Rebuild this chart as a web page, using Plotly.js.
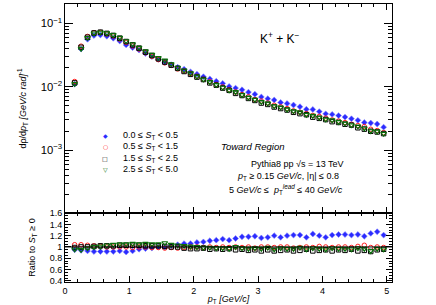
<!DOCTYPE html>
<html><head><meta charset="utf-8">
<script src="https://cdn.plot.ly/plotly-3.0.1.min.js"></script>
<style>html,body{margin:0;padding:0;background:#fff}#c{width:436px;height:305px}</style>
</head><body><div id="c"></div>
<script>
const pt = [0.15,0.25,0.35,0.45,0.55,0.65,0.75,0.85,0.95,1.05,1.15,1.25,1.35,1.45,1.55,1.65,1.75,1.85,1.95,2.05,2.15,2.25,2.35,2.45,2.55,2.65,2.75,2.85,2.95,3.05,3.15,3.25,3.35,3.45,3.55,3.65,3.75,3.85,3.95,4.05,4.15,4.25,4.35,4.45,4.55,4.65,4.75,4.85,4.95];

const seriesNames = ["0.0 ≤ <i>S</i><sub>T</sub> < 0.5","0.5 ≤ <i>S</i><sub>T</sub> < 1.5","1.5 ≤ <i>S</i><sub>T</sub> < 2.5","2.5 ≤ <i>S</i><sub>T</sub> < 5.0"];

const yieldST0 = [0.0110,0.0394,0.0561,0.0641,0.0654,0.0625,0.0581,0.0526,0.0456,0.0413,0.0378,0.0334,0.0299,0.0271,0.0243,0.0223,0.0203,0.0189,0.0172,0.0158,0.0144,0.0133,0.0122,0.0113,0.0101,0.00952,0.00896,0.00822,0.00763,0.00691,0.00649,0.00619,0.00565,0.00544,0.00515,0.00485,0.00442,0.00439,0.00406,0.00374,0.00367,0.00351,0.00333,0.00313,0.00296,0.00273,0.00268,0.00259,0.00231];
const yieldST1 = [0.0121,0.0436,0.0621,0.0711,0.0718,0.0679,0.0631,0.0566,0.0501,0.0440,0.0394,0.0344,0.0302,0.0268,0.0238,0.0217,0.0191,0.0176,0.0162,0.0146,0.0131,0.0120,0.0108,0.00993,0.00897,0.00828,0.00751,0.00697,0.00628,0.00596,0.00555,0.00511,0.00483,0.00453,0.00417,0.00397,0.00378,0.00353,0.00341,0.00320,0.00300,0.00288,0.00273,0.00256,0.00245,0.00236,0.00214,0.00204,0.00189];
const yieldST2 = [0.0115,0.0419,0.0603,0.0704,0.0725,0.0693,0.0644,0.0583,0.0516,0.0457,0.0406,0.0351,0.0311,0.0276,0.0245,0.0219,0.0195,0.0174,0.0157,0.0142,0.0130,0.0115,0.0106,0.00953,0.00879,0.00787,0.00729,0.00655,0.00609,0.00554,0.00527,0.00480,0.00454,0.00430,0.00396,0.00377,0.00363,0.00332,0.00318,0.00304,0.00282,0.00274,0.00257,0.00249,0.00226,0.00215,0.00199,0.00194,0.00183];
const yieldST3 = [0.0111,0.0398,0.0591,0.0697,0.0718,0.0699,0.0656,0.0594,0.0526,0.0471,0.0414,0.0365,0.0320,0.0285,0.0260,0.0228,0.0201,0.0182,0.0164,0.0146,0.0131,0.0119,0.0107,0.00973,0.00879,0.00828,0.00744,0.00676,0.00628,0.00578,0.00549,0.00495,0.00473,0.00439,0.00413,0.00397,0.00363,0.00350,0.00328,0.00307,0.00297,0.00279,0.00265,0.00249,0.00238,0.00222,0.00201,0.00198,0.00183];

const ratioST0 = [0.95,0.94,0.93,0.92,0.92,0.92,0.92,0.93,0.91,0.93,0.96,0.97,0.98,1.0,1.0,1.02,1.04,1.06,1.06,1.08,1.09,1.11,1.12,1.14,1.12,1.15,1.18,1.18,1.19,1.16,1.17,1.2,1.17,1.2,1.21,1.21,1.17,1.23,1.2,1.17,1.21,1.22,1.22,1.21,1.22,1.19,1.24,1.27,1.21];
const ratioST1 = [1.04,1.04,1.03,1.02,1.01,1.0,1.0,1.0,1.0,0.99,1.0,1.0,0.99,0.99,0.98,0.99,0.98,0.99,1.0,1.0,0.99,1.0,0.99,1.0,0.99,1.0,0.99,1.0,0.98,1.0,1.0,0.99,1.0,1.0,0.98,0.99,1.0,0.99,1.01,1.0,0.99,1.0,1.0,0.99,1.01,1.03,0.99,1.0,0.99];
const ratioST2 = [0.99,1.0,1.0,1.01,1.02,1.02,1.02,1.03,1.03,1.03,1.03,1.02,1.02,1.02,1.01,1.0,1.0,0.98,0.97,0.97,0.98,0.96,0.97,0.96,0.97,0.95,0.96,0.94,0.95,0.93,0.95,0.93,0.94,0.95,0.93,0.94,0.96,0.93,0.94,0.95,0.93,0.95,0.94,0.96,0.93,0.94,0.92,0.95,0.96];
const ratioST3 = [0.96,0.95,0.98,1.0,1.01,1.03,1.04,1.05,1.05,1.06,1.05,1.06,1.05,1.05,1.07,1.04,1.03,1.02,1.01,1.0,0.99,0.99,0.98,0.98,0.97,1.0,0.98,0.97,0.98,0.97,0.99,0.96,0.98,0.97,0.97,0.99,0.96,0.98,0.97,0.96,0.98,0.97,0.97,0.96,0.98,0.97,0.93,0.97,0.96];

const xTicks = [0,1,2,3,4,5];
const ratioTicks = [0.4,0.6,0.8,1,1.2,1.4,1.6];

const styles = [
  {symbol:'diamond', color:'#2b2bff', size:4.5, line:{width:0.6,color:'#8080ff'}},
  {symbol:'circle-open', color:'#ff2020', size:4.5, line:{width:1,color:'#ff2020'}},
  {symbol:'square-open', color:'#000000', size:4.5, line:{width:1,color:'#000000'}},
  {symbol:'triangle-down-open', color:'#0a6e0a', size:5, line:{width:1.2,color:'#0a6e0a'}}
];
const yields = [yieldST0,yieldST1,yieldST2,yieldST3];
const ratios = [ratioST0,ratioST1,ratioST2,ratioST3];

const traces = [];
for (let i=0;i<4;i++){
  traces.push({x:pt,y:yields[i],type:'scatter',mode:'markers',xaxis:'x',yaxis:'y',marker:styles[i],showlegend:false,hoverinfo:'skip'});
}
for (let i=0;i<4;i++){
  traces.push({x:pt,y:ratios[i],type:'scatter',mode:'markers',xaxis:'x2',yaxis:'y2',marker:styles[i],showlegend:false,hoverinfo:'skip'});
}

const F = 'Liberation Sans, Arial, sans-serif';
const axBase = {showline:true,linecolor:'#000',linewidth:1,mirror:'allticks',ticks:'inside',tickcolor:'#000',zeroline:false,showgrid:false,tickfont:{family:F,size:9,color:'#000'}};

const symChars = ['<span style="color:#2b2bff">◆</span>','<span style="color:#ff2020">○</span>','<span style="color:#000">□</span>','<span style="color:#0a6e0a">▽</span>'];
const annotations = [];
for (let i=0;i<4;i++){
  annotations.push({xref:'paper',yref:'paper',x:(105-65)/327,y:1-(135+i*11.5-4)/278,text:symChars[i],showarrow:false,font:{family:'DejaVu Sans',size:6},xanchor:'center',yanchor:'middle'});
  annotations.push({xref:'paper',yref:'paper',x:(121-65)/327,y:1-(135+i*11.5-4)/278,text:seriesNames[i],showarrow:false,font:{family:F,size:9,color:'#000'},xanchor:'left',yanchor:'middle'});
}
const txt = (x,y,t,size,anchor)=>({xref:'paper',yref:'paper',x:(x-65)/327,y:1-(y-4)/278,text:t,showarrow:false,font:{family:F,size:size,color:'#000'},xanchor:anchor||'center',yanchor:'middle'});
annotations.push(txt(280,38,'K<sup>+</sup> + K<sup>−</sup>',12));
annotations.push(txt(219,146,'<i>Toward Region</i>',9.5,'left'));
annotations.push(txt(297,164,'Pythia8 pp √s = 13 TeV',9));
annotations.push(txt(288,176,'<i>p</i><sub>T</sub> ≥ 0.15 <i>GeV/c</i>, |η| ≤ 0.8',9));
annotations.push(txt(286,189,'5 <i>GeV/c</i> ≤  <i>p</i><sub>T</sub><sup><i>lead</i></sup> ≤ 40 <i>GeV/c</i>',9));

const layout = {
  width:436,height:305,
  margin:{l:65,r:44,t:4,b:23,pad:0},
  paper_bgcolor:'#fff',plot_bgcolor:'#fff',
  showlegend:false,
  xaxis:Object.assign({},axBase,{domain:[0,1],range:[0,5.08],anchor:'y',matches:'x2',tickvals:xTicks,showticklabels:false,ticklen:6,minor:{ticks:'inside',dtick:0.2,ticklen:3,tickcolor:'#000'}}),
  yaxis:Object.assign({},axBase,{domain:[0.248,1],type:'log',range:[-3.99,-0.696],anchor:'x',dtick:1,exponentformat:'power',ticklen:8,minor:{ticks:'inside',dtick:'D1',ticklen:4,tickcolor:'#000'},
    title:{text:'dρ/d<i>p</i><sub>T</sub> <i>[GeV/c rad]</i><sup>-1</sup>',font:{family:F,size:9,color:'#000'},standoff:12}}),
  xaxis2:Object.assign({},axBase,{domain:[0,1],range:[0,5.08],anchor:'y2',tickvals:xTicks,ticklen:6,minor:{ticks:'inside',dtick:0.2,ticklen:3,tickcolor:'#000'},
    title:{text:'<i>p</i><sub>T</sub> <i>[GeV/c]</i>',font:{family:F,size:9,color:'#000'},standoff:2}}),
  yaxis2:Object.assign({},axBase,{domain:[0,0.248],range:[0.38,1.6],anchor:'x2',tickvals:ratioTicks,ticklen:6,minor:{ticks:'inside',dtick:0.05,ticklen:3,tickcolor:'#000'},
    title:{text:'Ratio to <i>S</i><sub>T</sub> ≥ 0',font:{family:F,size:9,color:'#000'},standoff:12}}),
  shapes:[{type:'line',xref:'x2',yref:'y2',x0:0,x1:5.08,y0:1,y1:1,line:{color:'#000',width:1}}],
  annotations:annotations
};
Plotly.newPlot('c',traces,layout,{staticPlot:true});
</script></body></html>
